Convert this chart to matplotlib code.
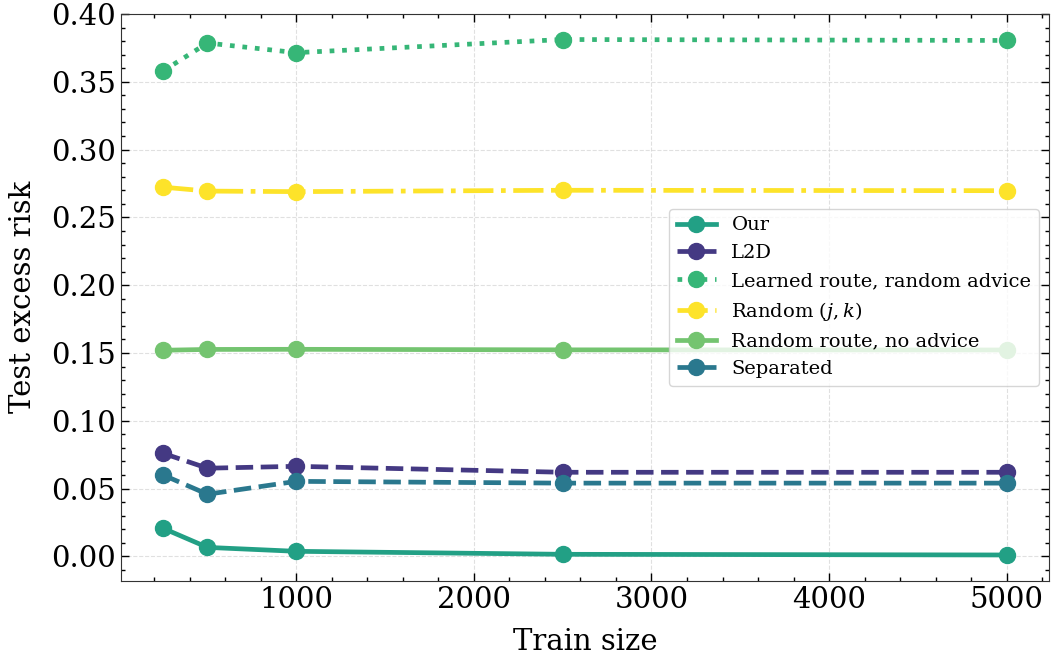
import matplotlib
matplotlib.use("Agg")
import matplotlib.pyplot as plt
from matplotlib.ticker import AutoMinorLocator, FormatStrFormatter

train_sizes = [250, 500, 1000, 2500, 5000]
our = [0.0207, 0.0066, 0.0037, 0.0015, 0.0010]
l2d = [0.0760, 0.0650, 0.0664, 0.0620, 0.0620]
learned_route = [0.3580, 0.3786, 0.3715, 0.3812, 0.3805]
random_jk = [0.2723, 0.2694, 0.2690, 0.2700, 0.2697]
random_route = [0.1520, 0.1526, 0.1527, 0.1523, 0.1522]
separated = [0.0600, 0.0458, 0.0553, 0.0540, 0.0540]

series = [
    ("Our", our, "#22a085", "-"),
    ("L2D", l2d, "#443983", "--"),
    ("Learned route, random advice", learned_route, "#36b677", ":"),
    ("Random $(j, k)$", random_jk, "#fde32a", "-."),
    ("Random route, no advice", random_route, "#74c470", "-"),
    ("Separated", separated, "#2a788e", "--"),
]

plt.rcParams['font.family'] = ['DejaVu Serif']
plt.rcParams['mathtext.fontset'] = 'dejavuserif'

fig, ax = plt.subplots(figsize=(10.51, 6.54), dpi=100)
for label, vals, color, ls in series:
    ax.plot(train_sizes, vals, ls, color=color, lw=3.4, marker='o', ms=11.5, label=label)

ax.set_xlabel("Train size", fontsize=21, labelpad=10)
ax.set_ylabel("Test excess risk", fontsize=21, labelpad=10)
ax.set_xticks([1000, 2000, 3000, 4000, 5000])
ax.xaxis.set_minor_locator(AutoMinorLocator(5))
ax.yaxis.set_minor_locator(AutoMinorLocator(5))
ax.tick_params(which='both', direction='in', top=True, right=True, labelsize=21)
ax.tick_params(which='major', length=6, width=1)
ax.tick_params(which='minor', length=3, width=1)
for s in ax.spines.values():
    s.set_color('#333333')
ax.grid(True, ls='--', color='#cccccc', alpha=0.6, lw=0.8)
ax.yaxis.set_major_formatter(FormatStrFormatter('%.2f'))
leg = ax.legend(loc='center right', fontsize=14, handlelength=2.0, framealpha=0.8)
fig.subplots_adjust(left=0.115, right=0.998, top=0.979, bottom=0.112)
fig.savefig("out.png", dpi=100)
